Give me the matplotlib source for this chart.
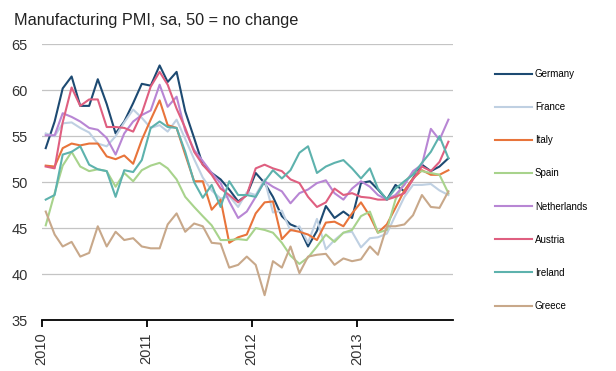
import numpy as np
import pandas as pd
import matplotlib
matplotlib.use('Agg')
import matplotlib.pyplot as plt
import matplotlib.dates as mdates

plt.rcParams['font.family'] = ['Liberation Sans', 'DejaVu Sans']

# monthly readings, Jan 2010 - Nov 2013
months = pd.date_range('2010-01-01', periods=47, freq='MS') + pd.Timedelta(days=14)

germany = [53.7, 56.6, 60.2, 61.5, 58.3, 58.3, 61.2, 58.5, 55.3, 56.6, 58.6, 60.7,
           60.5, 62.7, 60.9, 62.0, 57.7, 54.8, 51.9, 51.0, 50.3, 49.2, 47.9, 48.6,
           51.0, 49.9, 48.4, 46.3, 45.4, 45.0, 43.0, 44.7, 47.4, 46.1, 46.8, 46.1,
           49.9, 50.1, 49.2, 48.1, 49.7, 49.0, 50.4, 51.9, 51.2, 51.7, 52.6]
france = [55.3, 55.0, 56.4, 56.5, 55.9, 55.4, 54.2, 53.9, 55.0, 56.5, 57.9, 57.0,
          55.9, 56.2, 55.5, 56.8, 54.7, 52.5, 50.5, 49.1, 48.2, 48.5, 47.3, 48.9,
          48.6, 50.3, 46.7, 46.9, 44.7, 45.2, 43.4, 46.0, 42.7, 43.7, 44.5, 44.6,
          42.9, 43.9, 44.0, 44.4, 46.4, 48.4, 49.7, 49.7, 49.8, 49.1, 48.6]
italy = [51.8, 51.7, 53.7, 54.2, 54.0, 54.2, 54.2, 52.8, 52.5, 52.9, 52.0, 54.6,
         56.8, 58.9, 56.2, 55.9, 53.0, 50.1, 50.1, 47.0, 48.1, 43.4, 44.0, 44.3,
         46.6, 47.8, 47.9, 43.8, 44.8, 44.6, 44.3, 43.7, 45.6, 45.7, 45.2, 46.6,
         47.8, 46.3, 44.5, 45.4, 47.2, 49.1, 50.4, 51.3, 50.8, 50.8, 51.3]
spain = [45.3, 48.8, 51.8, 53.3, 51.7, 51.2, 51.4, 51.2, 49.5, 51.0, 50.1, 51.3,
         51.8, 52.1, 51.5, 50.3, 48.4, 47.3, 46.3, 45.3, 43.7, 43.7, 43.8, 43.7,
         45.0, 44.8, 44.5, 43.4, 42.0, 41.1, 41.8, 43.0, 44.3, 43.5, 44.5, 44.8,
         46.3, 46.8, 44.5, 44.8, 48.1, 50.0, 51.0, 51.2, 51.0, 50.8, 48.8]
netherlands = [55.1, 55.1, 57.5, 57.1, 56.6, 55.9, 55.7, 54.8, 53.0, 55.3, 56.6, 57.3,
               57.8, 60.6, 58.2, 59.3, 55.6, 53.5, 52.3, 51.0, 49.9, 47.9, 46.1, 46.8,
               48.4, 50.1, 49.5, 49.0, 47.7, 48.8, 49.2, 49.9, 50.2, 48.8, 48.1, 49.3,
               50.1, 49.5, 48.6, 48.1, 48.6, 49.7, 51.2, 51.9, 55.8, 54.6, 56.8]
austria = [51.7, 51.5, 56.5, 60.3, 58.3, 59.0, 59.0, 56.0, 56.0, 55.9, 55.5, 57.5,
           60.4, 62.0, 60.6, 58.0, 55.9, 53.3, 51.9, 50.8, 49.3, 48.6, 47.8, 48.6,
           51.5, 51.9, 51.5, 51.2, 50.3, 49.9, 48.4, 47.3, 47.8, 49.3, 48.6, 48.8,
           48.4, 48.3, 48.1, 48.1, 48.4, 48.8, 50.3, 51.7, 51.2, 52.2, 54.4]
ireland = [48.1, 48.6, 53.0, 53.3, 53.9, 51.9, 51.4, 51.2, 48.4, 51.3, 51.1, 52.4,
           55.9, 56.6, 56.0, 55.9, 53.3, 50.0, 48.3, 49.7, 47.3, 50.1, 48.6, 48.6,
           48.4, 50.1, 51.3, 50.4, 51.3, 53.2, 53.9, 51.0, 51.7, 52.1, 52.4, 51.5,
           50.4, 51.5, 49.3, 48.1, 49.3, 50.1, 50.8, 52.1, 53.3, 55.0, 52.6]
greece = [46.8, 44.3, 43.0, 43.5, 41.9, 42.3, 45.2, 43.0, 44.6, 43.7, 43.9, 43.0,
          42.8, 42.8, 45.4, 46.6, 44.6, 45.5, 45.2, 43.4, 43.3, 40.7, 41.0, 41.9,
          41.0, 37.7, 41.4, 40.7, 43.0, 40.1, 41.9, 42.1, 42.2, 41.0, 41.7, 41.4,
          41.6, 43.0, 42.1, 45.2, 45.2, 45.4, 46.4, 48.6, 47.3, 47.2, 49.0]

countries = ['Germany', 'France', 'Italy', 'Spain', 'Netherlands', 'Austria', 'Ireland', 'Greece']
series = [germany, france, italy, spain, netherlands, austria, ireland, greece]
colors = ['#1d4a72', '#bfd0e2', '#e8743b', '#a8d38c', '#b886d4', '#df5f80', '#5db2ad', '#c8a88a']

fig = plt.figure(figsize=(6.16, 3.71), dpi=100)
ax = fig.add_axes([41.7/616, 51/371, (453-41.7)/616, (320-44.3)/371])

for vals, c, name in zip(series, colors, countries):
    ax.plot(months, vals, color=c, lw=1.5, label=name)

ax.set_ylim(35, 65)
ax.set_yticks(range(35, 70, 5))
ax.set_xlim(pd.Timestamp('2010-01-01'), pd.Timestamp('2013-12-01'))
ax.xaxis.set_major_locator(mdates.YearLocator())
ax.xaxis.set_major_formatter(mdates.DateFormatter('%Y'))

ax.grid(axis='y', color='#c4c4c4', lw=0.9)
ax.set_axisbelow(True)
for s in ['top', 'right', 'left']:
    ax.spines[s].set_visible(False)
ax.spines['bottom'].set_color('black')
ax.spines['bottom'].set_linewidth(1.3)
ax.tick_params(axis='y', length=0, pad=10, labelsize=10.5, labelcolor='#333333')
ax.tick_params(axis='x', length=5, width=1.3, pad=4, labelsize=10.5, labelcolor='#333333')
plt.setp(ax.get_xticklabels(), rotation=90)

fig.text(14/616, 1 - 25/371, 'Manufacturing PMI, sa, 50 = no change',
         fontsize=11.7, color='#222222', va='baseline')

fig.legend(loc='upper left', bbox_to_anchor=(495/616, 1 - 69/371), frameon=False,
           fontsize=7, handlelength=3.8, handletextpad=0.3, labelspacing=2.38,
           borderpad=0, borderaxespad=0)

fig.savefig('out.png', dpi=100)
